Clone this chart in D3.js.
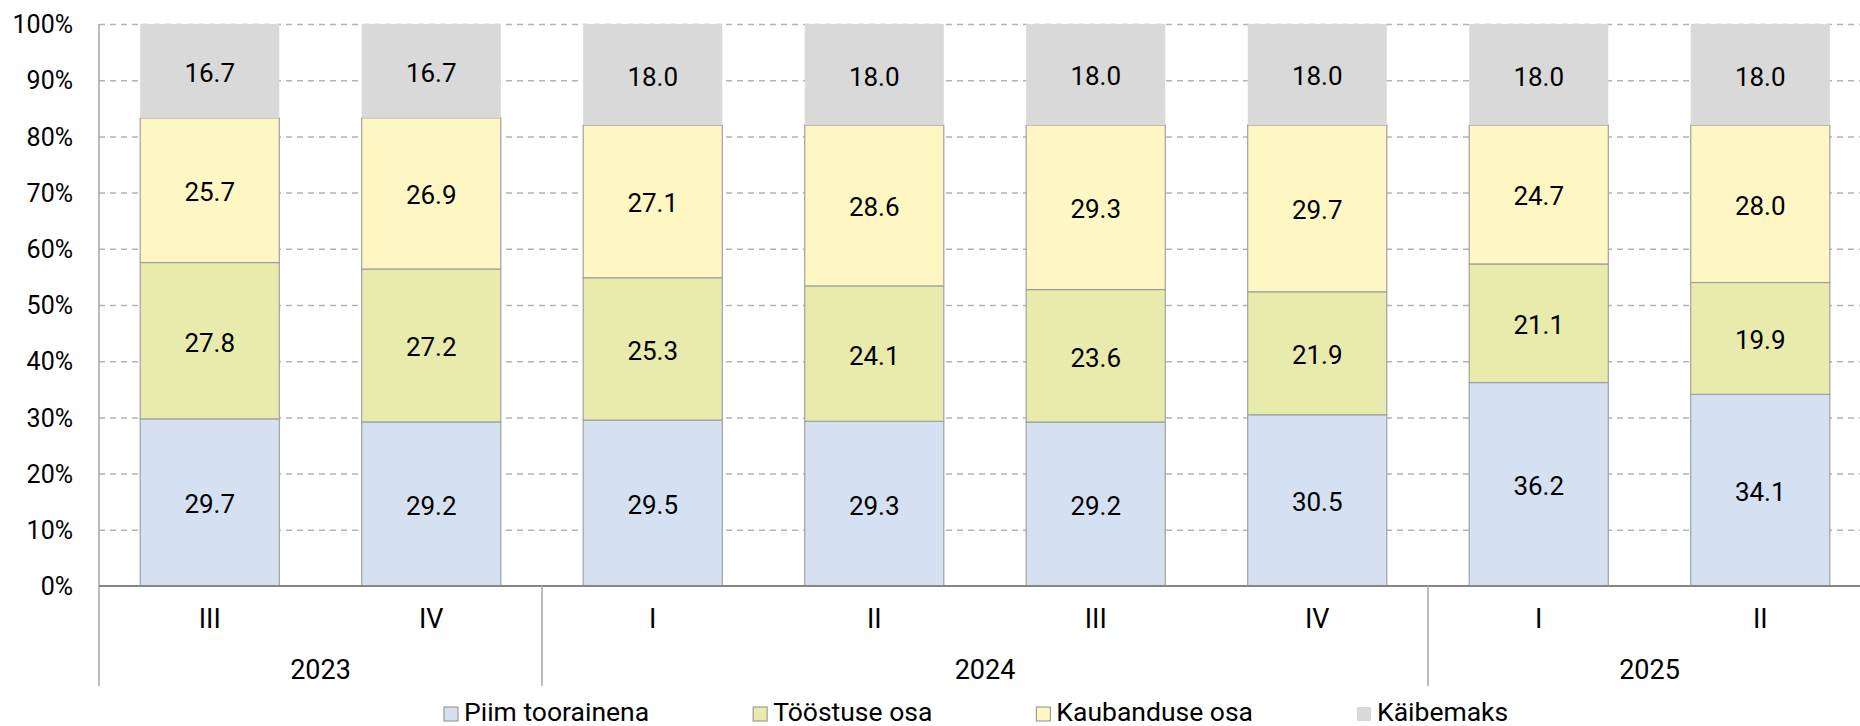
<!DOCTYPE html>
<html>
<head>
<meta charset="utf-8">
<script src="https://cdn.jsdelivr.net/npm/d3@7"></script>
<style>
  body { margin: 0; background: #fff; }
  #vis { width: 1860px; height: 726px; }
  text { font-family: Roboto, "Noto Sans", sans-serif; fill: #000; }
</style>
</head>
<body>
<div id="vis"></div>
<script>
// quarters and the years they belong to
var quarters = ["III", "IV", "I", "II", "III", "IV", "I", "II"];
var yearLabels = ["2023", "2024", "2025"];
var yearSpans = [2, 4, 2];

// shares of the retail price, %
var seriesNames = ["Piim toorainena", "Tööstuse osa", "Kaubanduse osa", "Käibemaks"];
var piim = [29.7, 29.2, 29.5, 29.3, 29.2, 30.5, 36.2, 34.1];
var toostus = [27.8, 27.2, 25.3, 24.1, 23.6, 21.9, 21.1, 19.9];
var kaubandus = [25.7, 26.9, 27.1, 28.6, 29.3, 29.7, 24.7, 28.0];
var kaibemaks = [16.7, 16.7, 18.0, 18.0, 18.0, 18.0, 18.0, 18.0];
var yTicks = [0, 0.1, 0.2, 0.3, 0.4, 0.5, 0.6, 0.7, 0.8, 0.9, 1];

var colours = ["#d5e0f1", "#e9ebad", "#fef7c4", "#d9d9d9"];
var strokes = ["#a0a0a0", "#a0a0a0", "#a0a0a0", "none"];

var width = 1860, height = 726;
var plotLeft = 99, step = 221.5;
var plotTop = 24, plotBottom = 586, catBottom = 686;

var svg = d3.select('#vis')
  .append('svg')
  .attr('width', width)
  .attr('height', height);

var x_scale = d3.scaleBand()
  .domain(d3.range(quarters.length))
  .range([plotLeft, plotLeft + step * quarters.length])
  .paddingInner(0.372)
  .paddingOuter(0.186);

var y_scale = d3.scaleLinear()
  .domain([0, 1])
  .range([plotBottom, plotTop]);

// gridlines
var grid = svg.append('g')
  .attr('transform', 'translate(' + plotLeft + ',0)')
  .call(d3.axisLeft(y_scale).tickValues(yTicks.slice(1)).tickSize(-(width - plotLeft)).tickFormat(''));
grid.select('.domain').remove();
grid.selectAll('line')
  .attr('stroke', '#b3b3b3')
  .attr('stroke-width', 1.5)
  .attr('stroke-dasharray', '6,5');

// y axis labels
var yAxis = svg.append('g')
  .attr('transform', 'translate(' + plotLeft + ',0)')
  .call(d3.axisLeft(y_scale).tickValues(yTicks).tickSize(0).tickPadding(26).tickFormat(d3.format('.0%')));
yAxis.select('.domain').remove();
yAxis.selectAll('text')
  .style('font-size', '25px')
  .attr('dy', '0.35em');

// stacked 100% bars
var rows = quarters.map(function(q, i) {
  return [piim[i], toostus[i], kaubandus[i], kaibemaks[i]];
});

rows.forEach(function(vals, i) {
  var total = d3.sum(vals);
  var acc = 0;
  vals.forEach(function(v, s) {
    var y0 = y_scale(acc / total);
    var y1 = y_scale((acc + v) / total);
    acc += v;
    svg.append('rect')
      .attr('x', x_scale(i))
      .attr('y', y1)
      .attr('width', x_scale.bandwidth())
      .attr('height', y0 - y1)
      .attr('fill', colours[s])
      .attr('stroke', strokes[s])
      .attr('stroke-width', 1.2);
    svg.append('text')
      .attr('x', x_scale(i) + x_scale.bandwidth() / 2)
      .attr('y', (y0 + y1) / 2)
      .attr('dy', '0.42em')
      .attr('text-anchor', 'middle')
      .style('font-size', '26px')
      .text(d3.format('.1f')(v));
  });
});

// axes lines
svg.append('line')
  .attr('x1', plotLeft).attr('x2', plotLeft)
  .attr('y1', plotTop).attr('y2', catBottom)
  .attr('stroke', '#a6a6a6').attr('stroke-width', 1.5);
svg.append('line')
  .attr('x1', plotLeft).attr('x2', width)
  .attr('y1', plotBottom).attr('y2', plotBottom)
  .attr('stroke', '#868686').attr('stroke-width', 2);

// quarter labels
svg.selectAll('.qlabel')
  .data(quarters)
  .enter()
  .append('text')
  .attr('class', 'qlabel')
  .attr('x', function(d, i) { return x_scale(i) + x_scale.bandwidth() / 2; })
  .attr('y', 619)
  .attr('dy', '0.35em')
  .attr('text-anchor', 'middle')
  .style('font-size', '27px')
  .text(function(d) { return d; });

// year labels and separators
var start = 0;
yearLabels.forEach(function(yr, k) {
  var x0 = plotLeft + step * start;
  var x1 = plotLeft + step * (start + yearSpans[k]);
  svg.append('text')
    .attr('x', (x0 + x1) / 2)
    .attr('y', 670)
    .attr('dy', '0.35em')
    .attr('text-anchor', 'middle')
    .style('font-size', '27px')
    .text(yr);
  if (k > 0) {
    svg.append('line')
      .attr('x1', x0).attr('x2', x0)
      .attr('y1', plotBottom).attr('y2', catBottom)
      .attr('stroke', '#a6a6a6').attr('stroke-width', 1.5);
  }
  start += yearSpans[k];
});

// legend
var lx = 444;
seriesNames.forEach(function(name, s) {
  svg.append('rect')
    .attr('x', lx)
    .attr('y', 707)
    .attr('width', 14)
    .attr('height', 14)
    .attr('fill', colours[s])
    .attr('stroke', strokes[s] === 'none' ? 'none' : '#8c8c8c')
    .attr('stroke-width', 1);
  var t = svg.append('text')
    .attr('x', lx + 20)
    .attr('y', 712)
    .attr('dy', '0.35em')
    .style('font-size', '26.5px')
    .text(name);
  lx += 20 + t.node().getComputedTextLength() + 104;
});
</script>
</body>
</html>
